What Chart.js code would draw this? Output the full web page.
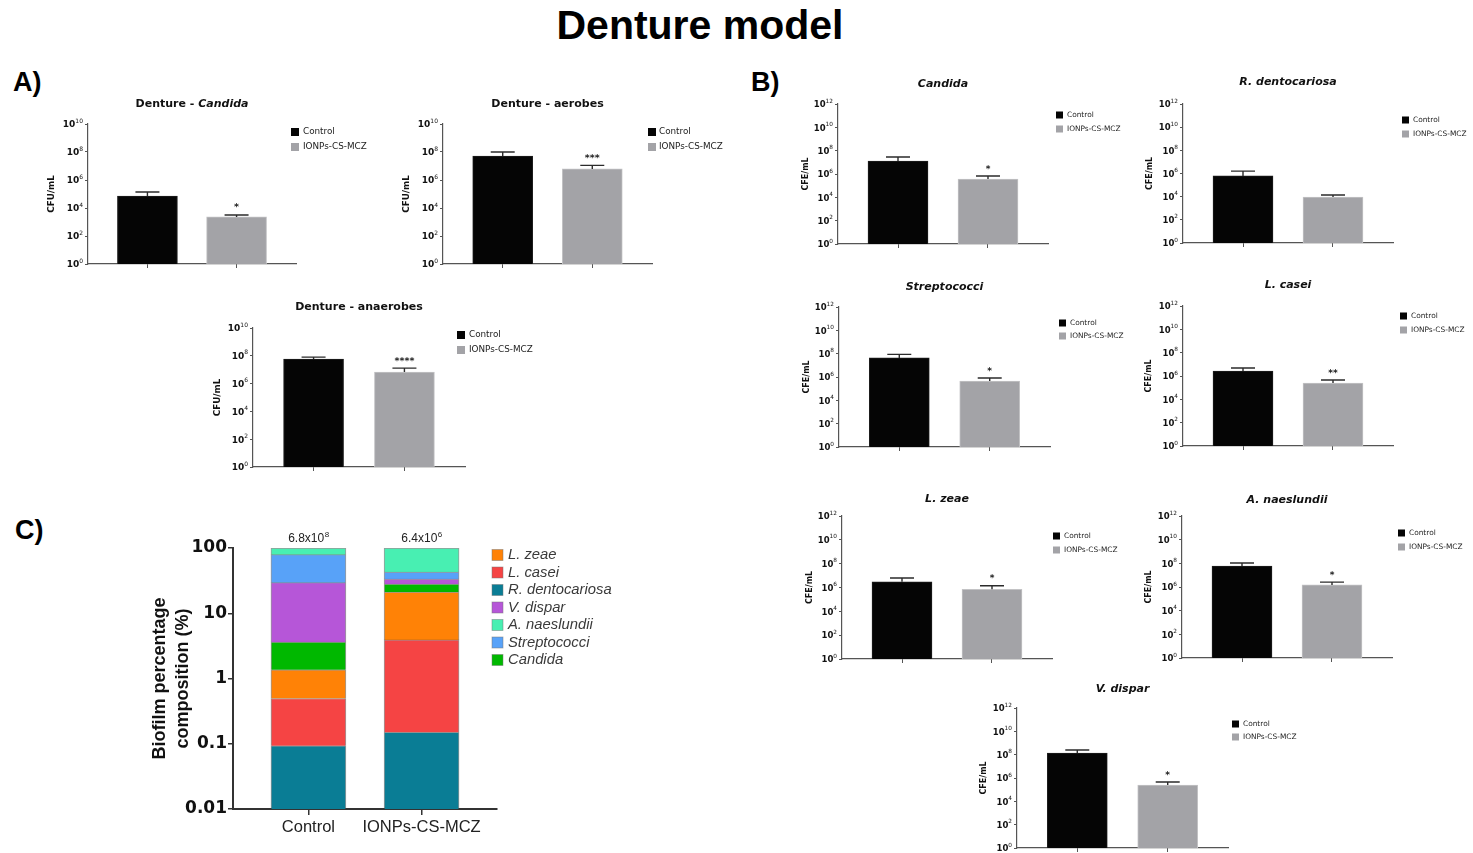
<!DOCTYPE html>
<html>
<head>
<meta charset="utf-8">
<title>Denture model</title>
<script src="https://cdn.jsdelivr.net/npm/chart.js@4.4.1/dist/chart.umd.min.js"></script>
<style>
  html, body { margin: 0; padding: 0; background: #fff; }
  body { position: relative; width: 1473px; height: 853px; overflow: hidden; }
  .txt { position: absolute; font-family: 'Liberation Sans', Arial, sans-serif; font-weight: bold;
         color: #000; white-space: nowrap; line-height: 1; }
  #mainTitle { left: 0; width: 1400px; text-align: center; top: 5px; font-size: 41px; }
  .panel { font-size: 27px; }
  canvas { position: absolute; }
</style>
</head>
<body>
<div id="mainTitle" class="txt">Denture model</div>
<div class="txt panel" style="left:13px; top:69px;">A)</div>
<div class="txt panel" style="left:751px; top:69px;">B)</div>
<div class="txt panel" style="left:15px; top:517px;">C)</div>

<script>
// ---------- data ----------
const groups = ['Control', 'IONPs-CS-MCZ'];

// Panel A (CFU/mL): bar means, upper ends of the error bars, significance marks
const aCandidaMean   = [7.2e4, 2.3e3];
const aCandidaUpper  = [1.4e5, 3.2e3];
const aCandidaSig    = ['', '*'];
const aAerobesMean   = [5.2e7, 6.2e6];
const aAerobesUpper  = [1.0e8, 1.1e7];
const aAerobesSig    = ['', '***'];
const aAnaerobesMean  = [5.9e7, 6.8e6];
const aAnaerobesUpper = [8.0e7, 1.3e7];
const aAnaerobesSig   = ['', '****'];

// Panel B (CFE/mL)
const bCandidaMean   = [1.3e7, 3.7e5];
const bCandidaUpper  = [2.9e7, 6.7e5];
const bCandidaSig    = ['', '*'];
const bDentoMean     = [6.2e5, 9.3e3];
const bDentoUpper    = [1.6e6, 1.4e4];
const bDentoSig      = ['', ''];
const bStrepMean     = [4.3e7, 4.5e5];
const bStrepUpper    = [8.7e7, 8.2e5];
const bStrepSig      = ['', '*'];
const bCaseiMean     = [2.7e6, 2.5e5];
const bCaseiUpper    = [4.8e6, 4.5e5];
const bCaseiSig      = ['', '**'];
const bZeaeMean      = [3.0e6, 7.0e5];
const bZeaeUpper     = [6.3e6, 1.4e6];
const bZeaeSig       = ['', '*'];
const bNaesMean      = [6.0e7, 1.5e6];
const bNaesUpper     = [1.07e8, 2.6e6];
const bNaesSig       = ['', '*'];
const bDisparMean    = [1.4e8, 2.5e5];
const bDisparUpper   = [2.5e8, 4.5e5];
const bDisparSig     = ['', '*'];

// decade exponents shown on the count axes
const expTicksA = [0, 2, 4, 6, 8, 10];
const expTicksB = [0, 2, 4, 6, 8, 10, 12];

// Panel C: percentage composition, stacked bottom to top
const species     = ['R. dentocariosa', 'L. casei', 'L. zeae', 'Candida', 'V. dispar', 'Streptococci', 'A. naeslundii'];
const controlPct  = [0.093, 0.40, 0.87, 2.24, 25.8, 49.6, 21.0];
const treatedPct  = [0.15, 3.75, 17.3, 6.9, 5.4, 9.4, 57.1];
const legendOrder = ['L. zeae', 'L. casei', 'R. dentocariosa', 'V. dispar', 'A. naeslundii', 'Streptococci', 'Candida'];
const totalMantissa = ['6.8', '6.4'];
const totalExponent = ['8', '6'];
const percentTicks  = [0.01, 0.1, 1, 10, 100];

// ---------- styles ----------
const FAM_D = "'DejaVu Sans', sans-serif";
const FAM_L = "'Liberation Sans', Arial, sans-serif";
const speciesColors = {
  'R. dentocariosa': '#0a7d95',
  'L. casei': '#f54444',
  'L. zeae': '#ff8206',
  'Candida': '#00b800',
  'V. dispar': '#b656d8',
  'Streptococci': '#58a2f8',
  'A. naeslundii': '#48efb2'
};
const fontsA = { title: 11, ytitle: 8.8, tick: 9, sup: 6, legend: 8.8, star: 9.5, sq: 8 };
const fontsB = { title: 11, ytitle: 8, tick: 8.5, sup: 5.8, legend: 7.4, star: 9, sq: 7 };

// horizontal position axis shared by all bar panels: two groups at 0 and 1
function groupAxis(extra) {
  return Object.assign({
    type: 'linear', min: -2 / 3, max: 5 / 3,
    offset: false, bounds: 'data', grace: 0,
    afterBuildTicks: s => { s.ticks = [{ value: 0 }, { value: 1 }]; }
  }, extra);
}

function addCanvas(x, y, w, h) {
  const c = document.createElement('canvas');
  c.width = w; c.height = h;
  c.style.left = x + 'px'; c.style.top = y + 'px';
  c.style.width = w + 'px'; c.style.height = h + 'px';
  document.body.appendChild(c);
  return c;
}

// Two-bar log-scale count chart with error bars, stars and a side legend
function countChart(cfg) {
  const a = cfg.area, f = cfg.fonts;
  const cl = a.l - 50, ct = cfg.titleY - 14;
  const cr = Math.min(1473, cfg.legendText + cfg.legendRoom), cb = a.b + 10;
  const canvas = addCanvas(cl, ct, cr - cl, cb - ct);
  const fills = ['#050505', '#a3a3a7'];
  const edges = ['#1e1e1e', '#c3c3c5'];
  const datasets = groups.map((g, i) => ({
    label: g,
    data: [{ x: i, y: cfg.mean[i] }],
    backgroundColor: fills[i],
    borderColor: edges[i],
    borderWidth: 1,
    barThickness: 60,
    grouped: false
  }));
  const topExp = cfg.exps[cfg.exps.length - 1];
  const titleLine = f.ytitle * 1.2;

  new Chart(canvas, {
    type: 'bar',
    data: { datasets },
    options: {
      responsive: false,
      animation: false,
      devicePixelRatio: 1,
      layout: { padding: { left: 0, top: a.t - ct, right: cr - a.r, bottom: cb - a.b - 6 } },
      plugins: { legend: { display: false }, tooltip: { enabled: false }, title: { display: false } },
      scales: {
        x: groupAxis({
          afterFit: s => { s.height = 6; },
          ticks: { display: false },
          grid: { offset: false, drawOnChartArea: false, drawTicks: true, tickLength: 4, color: '#555', lineWidth: 1 },
          border: { display: true, color: '#555', width: 1.2 }
        }),
        y: {
          type: 'logarithmic', min: 1, max: Math.pow(10, topExp),
          afterBuildTicks: s => { s.ticks = cfg.exps.map(e => ({ value: Math.pow(10, e) })); },
          afterFit: s => { s.width = a.l - cl; },
          ticks: { display: false },
          grid: { drawOnChartArea: false, drawTicks: true, tickLength: 3, color: '#555', lineWidth: 1 },
          border: { display: true, color: '#555', width: 1.2 },
          title: {
            display: true, text: cfg.yLabel, color: '#111',
            font: { family: FAM_D, size: f.ytitle, weight: 'bold', lineHeight: 1.2 },
            padding: { top: 50 - cfg.yTitleOff - titleLine / 2, bottom: 0 }
          }
        }
      }
    },
    plugins: [{
      id: 'countDecor',
      afterDatasetsDraw(chart) {
        const ctx = chart.ctx, ys = chart.scales.y;
        ctx.save();
        chart.data.datasets.forEach((d, i) => {
          const bar = chart.getDatasetMeta(i).data[0];
          const yTop = ys.getPixelForValue(cfg.upper[i]);
          ctx.strokeStyle = '#2b2b2b';
          ctx.lineWidth = 1.4;
          ctx.beginPath();
          ctx.moveTo(bar.x, bar.y); ctx.lineTo(bar.x, yTop);
          ctx.moveTo(bar.x - 12, yTop); ctx.lineTo(bar.x + 12, yTop);
          ctx.stroke();
          if (cfg.sig[i]) {
            ctx.fillStyle = '#1a1a1a';
            ctx.font = `bold ${f.star}px ${FAM_D}`;
            ctx.textAlign = 'center';
            ctx.textBaseline = 'alphabetic';
            ctx.fillText(cfg.sig[i], bar.x, yTop - 4.5);
          }
        });
        ctx.restore();
      },
      afterDraw(chart) {
        const ctx = chart.ctx, ys = chart.scales.y, area = chart.chartArea;
        ctx.save();
        // decade labels 10^n
        ys.ticks.forEach(t => {
          const py = ys.getPixelForValue(t.value);
          const e = String(Math.round(Math.log10(t.value)));
          const xr = area.left - 5;
          ctx.fillStyle = '#111';
          ctx.textAlign = 'right';
          ctx.textBaseline = 'alphabetic';
          ctx.font = `${f.sup}px ${FAM_D}`;
          const sw = ctx.measureText(e).width;
          ctx.fillText(e, xr, py - 1.5);
          ctx.font = `bold ${f.tick}px ${FAM_D}`;
          ctx.fillText('10', xr - sw, py + 3.3);
        });
        // chart title, mixed upright / italic parts
        const parts = cfg.title.map(p => ({
          text: p.t,
          font: `${p.it ? 'italic ' : ''}bold ${f.title}px ${FAM_D}`
        }));
        let total = 0;
        parts.forEach(p => { ctx.font = p.font; p.w = ctx.measureText(p.text).width; total += p.w; });
        let tx = (area.left + area.right) / 2 - total / 2;
        ctx.textAlign = 'left';
        ctx.textBaseline = 'middle';
        ctx.fillStyle = '#111';
        parts.forEach(p => { ctx.font = p.font; ctx.fillText(p.text, tx, cfg.titleY - ct); tx += p.w; });
        // legend
        chart.data.datasets.forEach((d, i) => {
          const ly = cfg.legendY[i] - ct;
          ctx.fillStyle = d.backgroundColor;
          ctx.fillRect(cfg.legendSq - cl, ly - f.sq / 2, f.sq, f.sq);
          ctx.fillStyle = '#222';
          ctx.font = `${f.legend}px ${FAM_D}`;
          ctx.textBaseline = 'middle';
          ctx.fillText(d.label, cfg.legendText - cl, ly);
        });
        ctx.restore();
      }
    }]
  });
}

// ---------- Panel A ----------
countChart({ area: { l: 88, t: 124, r: 296, b: 264 }, titleY: 104,
  title: [{ t: 'Denture - ' }, { t: 'Candida', it: true }], yLabel: 'CFU/mL', yTitleOff: 36,
  exps: expTicksA, mean: aCandidaMean, upper: aCandidaUpper, sig: aCandidaSig,
  legendSq: 291, legendText: 303, legendY: [132, 147], legendRoom: 80, fonts: fontsA });
countChart({ area: { l: 443, t: 124, r: 652, b: 264 }, titleY: 104,
  title: [{ t: 'Denture - aerobes' }], yLabel: 'CFU/mL', yTitleOff: 36,
  exps: expTicksA, mean: aAerobesMean, upper: aAerobesUpper, sig: aAerobesSig,
  legendSq: 648, legendText: 659, legendY: [132, 147], legendRoom: 80, fonts: fontsA });
countChart({ area: { l: 253, t: 328, r: 465, b: 467 }, titleY: 307,
  title: [{ t: 'Denture - anaerobes' }], yLabel: 'CFU/mL', yTitleOff: 35,
  exps: expTicksA, mean: aAnaerobesMean, upper: aAnaerobesUpper, sig: aAnaerobesSig,
  legendSq: 457, legendText: 469, legendY: [335, 350], legendRoom: 80, fonts: fontsA });

// ---------- Panel B ----------
countChart({ area: { l: 838, t: 104, r: 1048, b: 244 }, titleY: 84,
  title: [{ t: 'Candida', it: true }], yLabel: 'CFE/mL', yTitleOff: 32,
  exps: expTicksB, mean: bCandidaMean, upper: bCandidaUpper, sig: bCandidaSig,
  legendSq: 1056, legendText: 1067, legendY: [115, 129], legendRoom: 62, fonts: fontsB });
countChart({ area: { l: 1183, t: 104, r: 1393, b: 243 }, titleY: 82,
  title: [{ t: 'R. dentocariosa', it: true }], yLabel: 'CFE/mL', yTitleOff: 33,
  exps: expTicksB, mean: bDentoMean, upper: bDentoUpper, sig: bDentoSig,
  legendSq: 1402, legendText: 1413, legendY: [120, 134], legendRoom: 62, fonts: fontsB });
countChart({ area: { l: 839, t: 307, r: 1050, b: 447 }, titleY: 287,
  title: [{ t: 'Streptococci', it: true }], yLabel: 'CFE/mL', yTitleOff: 32,
  exps: expTicksB, mean: bStrepMean, upper: bStrepUpper, sig: bStrepSig,
  legendSq: 1059, legendText: 1070, legendY: [323, 336], legendRoom: 62, fonts: fontsB });
countChart({ area: { l: 1183, t: 306, r: 1393, b: 446 }, titleY: 285,
  title: [{ t: 'L. casei', it: true }], yLabel: 'CFE/mL', yTitleOff: 34,
  exps: expTicksB, mean: bCaseiMean, upper: bCaseiUpper, sig: bCaseiSig,
  legendSq: 1400, legendText: 1411, legendY: [316, 330], legendRoom: 62, fonts: fontsB });
countChart({ area: { l: 842, t: 516, r: 1052, b: 659 }, titleY: 499,
  title: [{ t: 'L. zeae', it: true }], yLabel: 'CFE/mL', yTitleOff: 32,
  exps: expTicksB, mean: bZeaeMean, upper: bZeaeUpper, sig: bZeaeSig,
  legendSq: 1053, legendText: 1064, legendY: [536, 550], legendRoom: 62, fonts: fontsB });
countChart({ area: { l: 1182, t: 516, r: 1392, b: 658 }, titleY: 500,
  title: [{ t: 'A. naeslundii', it: true }], yLabel: 'CFE/mL', yTitleOff: 33,
  exps: expTicksB, mean: bNaesMean, upper: bNaesUpper, sig: bNaesSig,
  legendSq: 1398, legendText: 1409, legendY: [533, 547], legendRoom: 62, fonts: fontsB });
countChart({ area: { l: 1017, t: 708, r: 1228, b: 848 }, titleY: 689,
  title: [{ t: 'V. dispar', it: true }], yLabel: 'CFE/mL', yTitleOff: 33,
  exps: expTicksB, mean: bDisparMean, upper: bDisparUpper, sig: bDisparSig,
  legendSq: 1232, legendText: 1243, legendY: [724, 737], legendRoom: 62, fonts: fontsB });

// ---------- Panel C: stacked composition ----------
(function () {
  const cl = 140, ct = 525, cw = 490, ch = 320;
  const area = { l: 233, t: 548, r: 497, b: 809 };
  const canvas = addCanvas(cl, ct, cw, ch);
  const datasets = species.map((name, i) => ({
    label: name,
    data: [{ x: 0, y: controlPct[i] }, { x: 1, y: treatedPct[i] }],
    backgroundColor: speciesColors[name],
    borderColor: 'rgba(70,70,70,0.55)',
    borderWidth: 1,
    barThickness: 75
  }));
  new Chart(canvas, {
    type: 'bar',
    data: { datasets },
    options: {
      responsive: false,
      animation: false,
      devicePixelRatio: 1,
      layout: { padding: { left: 0, top: area.t - ct, right: cl + cw - area.r, bottom: ct + ch - area.b - 30 } },
      plugins: { legend: { display: false }, tooltip: { enabled: false }, title: { display: false } },
      scales: {
        x: groupAxis({
          stacked: true,
          afterFit: s => { s.height = 30; },
          ticks: {
            callback: v => groups[v], color: '#222', padding: 3, maxRotation: 0, autoSkip: false,
            font: { family: FAM_L, size: 16.5 }
          },
          grid: { offset: false, drawOnChartArea: false, drawTicks: true, tickLength: 6, color: '#333', lineWidth: 1.5 },
          border: { display: true, color: '#333', width: 2 }
        }),
        y: {
          type: 'logarithmic', stacked: true, min: 0.01, max: 100,
          afterBuildTicks: s => { s.ticks = percentTicks.map(v => ({ value: v })); },
          afterFit: s => { s.width = area.l - cl; },
          ticks: {
            callback: v => String(v), color: '#111', padding: 1,
            font: { family: FAM_D, size: 17, weight: 'bold' }
          },
          grid: { drawOnChartArea: false, drawTicks: true, tickLength: 5, color: '#333', lineWidth: 1.5 },
          border: { display: true, color: '#333', width: 2 },
          title: {
            display: true, text: ['Biofilm percentage', 'composition (%)'], color: '#111',
            font: { family: FAM_L, size: 18, weight: 'bold', lineHeight: 1.28 },
            padding: { top: 8.5, bottom: 0 }
          }
        }
      }
    },
    plugins: [{
      id: 'compositionDecor',
      afterDraw(chart) {
        const ctx = chart.ctx, top = chart.chartArea.top;
        const bars = chart.getDatasetMeta(species.length - 1).data;
        ctx.save();
        // total counts above each column
        bars.forEach((bar, i) => {
          const main = totalMantissa[i] + 'x10';
          const sup = totalExponent[i];
          ctx.font = `12px ${FAM_L}`;
          const w1 = ctx.measureText(main).width;
          ctx.font = `8px ${FAM_L}`;
          const w2 = ctx.measureText(sup).width;
          const x0 = bar.x - (w1 + w2) / 2;
          ctx.fillStyle = '#222';
          ctx.textAlign = 'left';
          ctx.textBaseline = 'alphabetic';
          ctx.font = `12px ${FAM_L}`;
          ctx.fillText(main, x0, top - 6);
          ctx.font = `8px ${FAM_L}`;
          ctx.fillText(sup, x0 + w1 + 0.5, top - 11);
        });
        // legend
        legendOrder.forEach((name, k) => {
          const ds = chart.data.datasets.find(d => d.label === name);
          const ly = 30 + k * 17.5;
          ctx.fillStyle = ds.backgroundColor;
          ctx.fillRect(352, ly - 5.5, 11, 11);
          ctx.strokeStyle = 'rgba(120,120,120,0.6)';
          ctx.lineWidth = 0.8;
          ctx.strokeRect(352, ly - 5.5, 11, 11);
          ctx.fillStyle = '#3a3a3a';
          ctx.font = `italic 14.8px ${FAM_L}`;
          ctx.textAlign = 'left';
          ctx.textBaseline = 'middle';
          ctx.fillText(name, 368, ly);
        });
        ctx.restore();
      }
    }]
  });
})();
</script>
</body>
</html>
